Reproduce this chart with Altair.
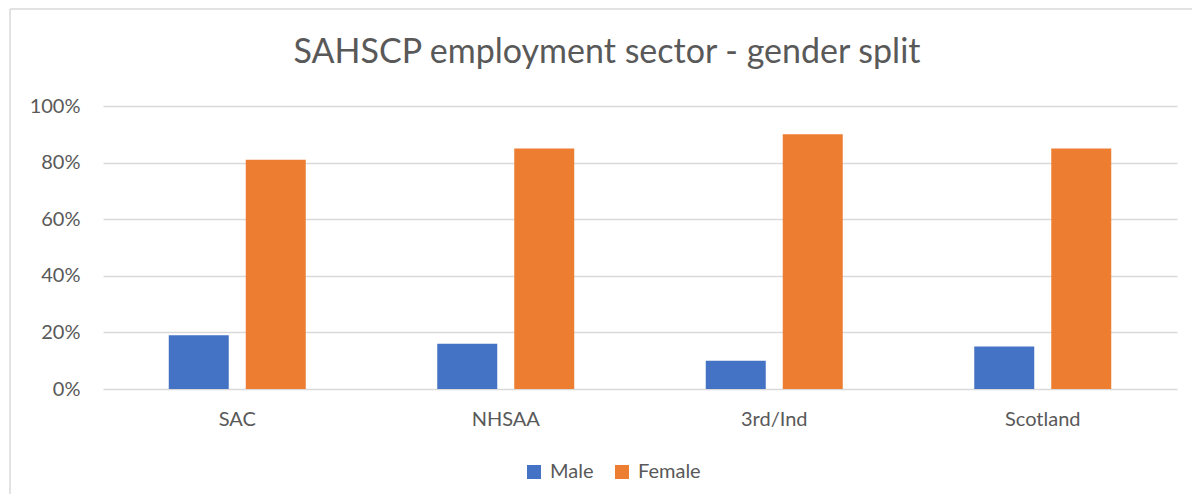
import altair as alt
import pandas as pd

title_text = "SAHSCP employment sector - gender split"
categories = ["SAC", "NHSAA", "3rd/Ind", "Scotland"]
male = [0.19, 0.16, 0.10, 0.15]
female = [0.81, 0.85, 0.90, 0.85]
series = ["Male", "Female"]
colors = ["#4472C4", "#ED7D31"]

rows = []
for c, m, f in zip(categories, male, female):
    rows.append({"sector": c, "gender": "Male", "share": m})
    rows.append({"sector": c, "gender": "Female", "share": f})
df = pd.DataFrame(rows)

FONT = "Lato"
TXT = "#595959"

bars = alt.Chart(df).mark_bar().encode(
    x=alt.X("sector:N", sort=categories, title=None,
            scale=alt.Scale(paddingInner=0, paddingOuter=0),
            axis=alt.Axis(labelAngle=0, domain=False, ticks=False, labelPadding=20,
                          labelFontSize=20, labelColor=TXT, labelFont=FONT)),
    xOffset=alt.XOffset("gender:N", sort=series,
                        scale=alt.Scale(paddingInner=0.2208, paddingOuter=0.854)),
    y=alt.Y("share:Q", title=None,
            scale=alt.Scale(domain=[0, 1], nice=False),
            axis=alt.Axis(format="%", values=[0, 0.2, 0.4, 0.6, 0.8, 1.0], domain=False, ticks=False,
                          labelPadding=23, labelFontSize=20, labelColor=TXT, labelFont=FONT,
                          gridColor="#d9d9d9", gridWidth=1.5)),
    color=alt.Color("gender:N", sort=series, title=None,
                    scale=alt.Scale(domain=series, range=colors),
                    legend=alt.Legend(orient="none", legendX=421, legendY=356, direction="horizontal",
                                      symbolType="square", symbolSize=196, symbolStrokeWidth=0,
                                      labelFontSize=20, labelColor=TXT, labelFont=FONT,
                                      columnPadding=18, labelOffset=6)),
)

one = pd.DataFrame({"a": [0]})
border_left = alt.Chart(one).mark_rule(color="#d9d9d9", strokeWidth=1.5, clip=False).encode(
    x=alt.value(-93), y=alt.value(-97), y2=alt.value(420))
border_top = alt.Chart(one).mark_rule(color="#d9d9d9", strokeWidth=1.5, clip=False).encode(
    x=alt.value(-93), x2=alt.value(1120), y=alt.value(-97))

title = alt.Chart(pd.DataFrame({"t": [title_text]})).mark_text(
    font=FONT, fontSize=34, color=TXT, align="center", baseline="alphabetic"
).encode(text="t:N", x=alt.value(504), y=alt.value(-43))

chart = alt.layer(border_left, border_top, bars, title).properties(
    width=1074, height=283,
    padding={"left": 95, "top": 98, "right": 15, "bottom": 105},
    autosize=alt.AutoSizeParams(type="none"),
).configure_view(stroke=None)

chart.save("out.html", embed_options={"renderer": "svg", "actions": False})
